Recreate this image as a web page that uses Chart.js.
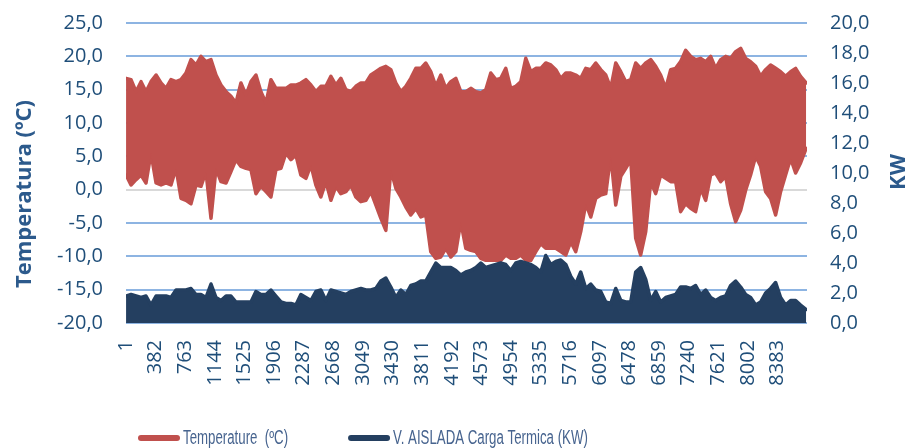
<!DOCTYPE html>
<html>
<head>
<meta charset="utf-8">
<script src="https://cdn.jsdelivr.net/npm/chart.js@4.4.1/dist/chart.umd.min.js"></script>
<style>
  html, body { margin: 0; padding: 0; background: #ffffff; overflow: hidden; }
  canvas { display: block; }
</style>
</head>
<body>
<canvas id="chart" width="906" height="448" style="width:906px;height:448px"></canvas>
<script>
// Hour of the year at which each daily swing was sampled
const sampleHours = [
  1, 65, 130, 194, 258, 322, 387, 451, 515, 579, 644, 708, 772, 837, 901, 965, 1029, 1094, 1158, 1222,
  1287, 1351, 1415, 1479, 1544, 1608, 1672, 1736, 1801, 1865, 1929, 1994, 2058, 2122,
  2186, 2250, 2315, 2379, 2443, 2507, 2572, 2636, 2700, 2764, 2829, 2893, 2957, 3022, 3086, 3150,
  3214, 3279, 3343, 3407, 3472, 3536, 3600, 3664, 3729, 3793, 3857, 3921, 3986, 4050, 4114, 4179, 4243, 4307,
  4372, 4436, 4501, 4565, 4629, 4693, 4758, 4822, 4886, 4950, 5015, 5079, 5143, 5208, 5272, 5336,
  5400, 5465, 5529, 5593, 5658, 5722, 5786, 5850, 5915, 5979, 6043, 6107, 6172, 6236, 6300, 6365, 6429, 6493,
  6557, 6621, 6686, 6750, 6814, 6878, 6943, 7007, 7071, 7135, 7200, 7264, 7328, 7393, 7457, 7521,
  7585, 7650, 7714, 7778, 7843, 7907, 7971, 8035, 8100, 8164, 8228, 8292, 8357, 8421, 8485, 8550, 8614, 8678, 8750
];

// Outdoor temperature (ºC): daily high and daily low around each sample hour
const tempHigh = [
  16.7, 16.5, 14.7, 16.2, 14.7, 16.2, 17.2, 16.0, 15.2, 16.5, 16.2, 16.5, 17.5, 19.5, 18.7, 20.0, 19.2, 19.5, 17.2, 15.7,
  14.7, 14.0, 13.0, 16.0, 14.2, 16.2, 17.2, 14.7, 13.0, 16.5, 15.2, 15.2, 15.2, 15.7,
  15.7, 16.0, 16.5, 15.7, 14.7, 15.5, 15.5, 17.0, 15.7, 16.7, 15.0, 14.7, 15.5, 16.0, 16.0, 17.2,
  17.7, 18.2, 18.5, 18.0, 16.0, 14.7, 15.5, 16.7, 18.2, 18.2, 19.0, 17.7, 15.5, 17.2, 15.2, 16.2, 16.7, 14.7,
  14.7, 15.2, 14.7, 14.5, 15.0, 17.5, 16.5, 16.7, 18.2, 15.2, 15.5, 16.2, 19.7, 17.7, 18.2, 18.2,
  19.0, 18.7, 18.0, 16.7, 17.5, 17.5, 17.2, 16.7, 18.2, 18.0, 19.0, 18.0, 17.2, 15.2, 19.0, 17.7, 16.2, 16.5,
  19.0, 18.2, 19.0, 19.5, 18.5, 17.2, 15.2, 18.0, 18.2, 19.2, 20.9, 20.0, 19.5, 19.7, 19.2, 20.0,
  18.2, 19.5, 20.0, 19.7, 20.7, 21.2, 19.7, 19.2, 18.5, 17.0, 18.0, 18.7, 18.2, 17.7, 17.0, 17.7, 18.2, 17.0, 16.0
];
const tempLow = [
  2.2, 0.7, 1.5, 2.2, 1.0, 5.5, 1.0, 0.7, 1.0, 0.7, 3.2, -1.3, -1.6, -2.1, 0.7, 0.5, 2.7, -4.3, 3.2, 1.2,
  1.0, 2.7, 4.5, 3.5, 3.2, 3.0, -0.6, 0.5, -0.3, -1.1, 3.0, 3.2, 5.5, 4.5,
  5.2, 2.2, 1.7, 3.7, 0.7, -1.1, 1.2, -1.6, 0.5, -0.6, -0.3, 0.7, -1.1, -1.8, -1.6, -0.3,
  -2.3, -4.3, -6.1, 3.0, 0.2, -1.1, -2.6, -3.8, -2.8, -4.1, -3.8, -9.3, -10.3, -10.1, -8.8, -10.1, -9.3, -4.8,
  -8.8, -9.1, -9.3, -10.3, -10.6, -10.6, -10.6, -10.6, -9.8, -10.3, -10.3, -9.8, -10.6, -10.6, -9.3, -8.1,
  -8.8, -8.8, -8.8, -9.3, -9.8, -7.8, -9.3, -6.3, -2.1, -4.1, -1.3, -0.8, -0.6, 5.2, -2.3, 2.0, 3.2, 4.5,
  -7.3, -9.8, -6.3, 1.2, -0.6, 2.2, 1.7, 1.2, 1.2, -3.3, -2.1, -2.8, -3.3, 0.2, -1.6, 2.2,
  2.5, 1.2, 2.0, -2.1, -4.8, -3.1, -0.1, 2.2, 5.0, 3.5, -0.3, -1.3, -3.8, -0.3, 2.2, 4.7, 2.5, 4.0, 6.2
];

// Thermal load of the insulated dwelling (kW): daily peak at each sample hour
const loadPeak = [
  1.8, 1.9, 1.8, 1.7, 1.8, 1.2, 1.8, 1.8, 1.8, 1.7, 2.2, 2.2, 2.2, 2.3, 1.9, 1.9, 1.7, 2.6, 1.7, 1.5,
  1.8, 1.8, 1.4, 1.4, 1.4, 1.4, 2.1, 1.9, 1.9, 2.2, 1.8, 1.4, 1.3, 1.3,
  1.2, 1.9, 1.7, 1.5, 2.1, 2.2, 1.5, 2.2, 2.1, 2.0, 1.9, 2.1, 2.2, 2.3, 2.2, 2.2,
  2.3, 2.8, 3.0, 2.4, 1.7, 2.2, 1.9, 2.5, 2.6, 2.8, 2.8, 3.4, 4.0, 3.7, 3.7, 3.7, 3.5, 3.2,
  3.4, 3.5, 3.7, 4.0, 3.7, 3.8, 3.9, 4.0, 3.9, 3.5, 4.0, 4.1, 4.0, 3.9, 3.7, 3.4,
  4.5, 3.9, 4.1, 4.2, 3.9, 3.1, 2.6, 3.4, 2.3, 2.6, 2.2, 2.1, 1.4, 1.3, 2.3, 1.5, 1.4, 1.4,
  3.4, 3.7, 2.9, 1.5, 2.1, 1.4, 1.7, 1.8, 1.9, 2.4, 2.4, 2.3, 2.5, 1.9, 2.2, 1.7,
  1.5, 1.7, 1.8, 2.5, 2.8, 2.4, 1.9, 1.7, 1.2, 1.4, 2.0, 2.3, 2.7, 1.7, 1.2, 1.5, 1.5, 1.2, 0.9
];

// Hour labels shown along the bottom axis
const hourTicks = [1, 382, 763, 1144, 1525, 1906, 2287, 2668, 3049, 3430, 3811, 4192,
                   4573, 4954, 5335, 5716, 6097, 6478, 6859, 7240, 7621, 8002, 8383];

const seriesNames = ['Temperature  (ºC)', 'V. AISLADA Carga Termica (KW)'];
const axisTitles = { temp: 'Temperatura (ºC)', load: 'KW' };

const RED = '#C0504D';
const NAVY = '#243F60';
const TICK_BLUE = '#1F4E79';
const TITLE_BLUE = '#2C5A8C';
const TICK_FONT = { family: "'Open Sans', sans-serif", size: 20 };
const CLEAR = 'rgba(0,0,0,0)';

const highPoints = sampleHours.map((h, i) => ({ x: h, y: tempHigh[i] }));
const lowPoints = sampleHours.map((h, i) => ({ x: h, y: tempLow[i] }));
const loadPoints = sampleHours.map((h, i) => ({ x: h, y: loadPeak[i] }));

const commaDecimal = v => Number(v).toFixed(1).replace('.', ',');

// Rotated axis titles
const axisTitlePlugin = {
  id: 'axisTitles',
  afterDraw(chart) {
    const ctx = chart.ctx;
    const draw = (text, x, y) => {
      ctx.save();
      ctx.fillStyle = TITLE_BLUE;
      ctx.font = "bold 22px 'Open Sans', sans-serif";
      ctx.textAlign = 'center';
      ctx.textBaseline = 'alphabetic';
      ctx.translate(x, y);
      ctx.rotate(-Math.PI / 2);
      ctx.fillText(text, 0, 0);
      ctx.restore();
    };
    draw(axisTitles.temp, 31, 194);
    draw(axisTitles.load, 905, 172);
  }
};

// Series key under the plot: a thick rounded stroke followed by the series name
const keyEntries = [
  { label: seriesNames[0], color: RED },
  { label: seriesNames[1], color: NAVY }
];
const seriesKeyPlugin = {
  id: 'seriesKey',
  afterDraw(chart) {
    const ctx = chart.ctx;
    const y = 438;
    const squeeze = 0.68;
    let x = 138;
    ctx.save();
    ctx.font = "19.5px 'Liberation Sans', sans-serif";
    ctx.textBaseline = 'middle';
    keyEntries.forEach(entry => {
      ctx.strokeStyle = entry.color;
      ctx.lineWidth = 6;
      ctx.lineCap = 'round';
      ctx.beginPath();
      ctx.moveTo(x + 3, y);
      ctx.lineTo(x + 39, y);
      ctx.stroke();
      const w = ctx.measureText(entry.label).width * squeeze;
      ctx.save();
      ctx.translate(x + 45, y + 1);
      ctx.scale(squeeze, 1);
      ctx.fillStyle = '#47648F';
      ctx.fillText(entry.label, 0, 0);
      ctx.restore();
      x += 45 + w + 60;
    });
    ctx.restore();
  }
};

const lineStyle = {
  borderWidth: 3.5,
  borderJoinStyle: 'round',
  borderCapStyle: 'round',
  pointRadius: 0,
  tension: 0
};

new Chart(document.getElementById('chart'), {
  type: 'line',
  data: {
    datasets: [
      Object.assign({
        label: seriesNames[0],
        data: highPoints,
        yAxisID: 'y',
        borderColor: RED,
        backgroundColor: RED,
        fill: '+1',
        order: 1
      }, lineStyle),
      Object.assign({
        label: seriesNames[0],
        data: lowPoints,
        yAxisID: 'y',
        borderColor: RED,
        backgroundColor: RED,
        fill: false,
        order: 1
      }, lineStyle),
      Object.assign({
        label: seriesNames[1],
        data: loadPoints,
        yAxisID: 'y1',
        borderColor: NAVY,
        backgroundColor: NAVY,
        fill: 'origin',
        order: 0
      }, lineStyle)
    ]
  },
  options: {
    responsive: false,
    animation: false,
    devicePixelRatio: 1,
    layout: { padding: { top: 23, left: 0, right: 0, bottom: 0 } },
    plugins: {
      legend: { display: false },
      tooltip: { enabled: false }
    },
    scales: {
      x: {
        type: 'linear',
        min: 0.5,
        max: 8760.5,
        grid: { display: false, drawTicks: false },
        border: { display: false },
        afterBuildTicks: scale => { scale.ticks = hourTicks.map(v => ({ value: v })); },
        afterFit: scale => { scale.height = 125; },
        ticks: {
          autoSkip: false,
          minRotation: 90,
          maxRotation: 90,
          padding: 17,
          color: TICK_BLUE,
          font: TICK_FONT,
          callback: v => String(v)
        }
      },
      y: {
        position: 'left',
        min: -20,
        max: 25,
        afterFit: scale => { scale.width = 126; },
        border: { display: false },
        grid: {
          drawTicks: true,
          tickLength: 23,
          tickColor: CLEAR,
          lineWidth: 2,
          color: c => (c.tick && c.tick.value === 0 ? '#D9D9D9' : '#8DB4E2')
        },
        ticks: {
          stepSize: 5,
          padding: 0,
          color: TICK_BLUE,
          font: TICK_FONT,
          callback: commaDecimal
        }
      },
      y1: {
        position: 'right',
        min: 0,
        max: 20,
        afterFit: scale => { scale.width = 99; },
        border: { display: false },
        grid: {
          display: true,
          drawOnChartArea: false,
          drawTicks: true,
          tickLength: 23,
          color: CLEAR,
          tickColor: CLEAR
        },
        ticks: {
          stepSize: 2,
          padding: 0,
          color: TICK_BLUE,
          font: TICK_FONT,
          callback: commaDecimal
        }
      }
    }
  },
  plugins: [axisTitlePlugin, seriesKeyPlugin]
});
</script>
</body>
</html>
